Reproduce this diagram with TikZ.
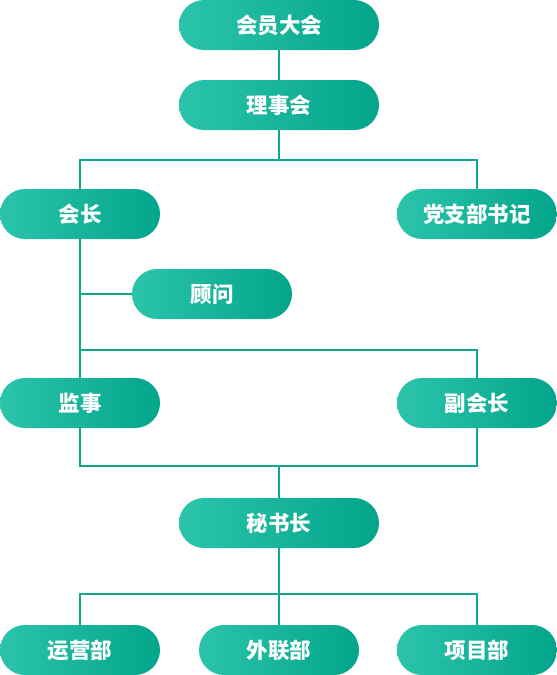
\documentclass[tikz,border=0pt]{standalone}
\usepackage{fontspec}
\newfontfamily\cjk{Noto Sans CJK SC}
\definecolor{lightg}{HTML}{2BC4AB}
\definecolor{darkg}{HTML}{03A58B}
\definecolor{linec}{HTML}{0DA68E}
\begin{document}
\begin{tikzpicture}[x=1pt,y=-1pt,
  pill/.style={rectangle, rounded corners=25pt, minimum height=50pt, minimum width=160pt, inner sep=0pt,
    left color=lightg, right color=darkg, text=white, font=\cjk\bfseries\fontsize{21.5}{21.5}\selectfont},
  wide/.style={pill, minimum width=200pt},
  conn/.style={draw=linec, line width=2pt}]
\useasboundingbox (0,0) rectangle (557,675);
\node[wide] (hy) at (279,25) {会员大会};
\node[wide] (lsh) at (279,105) {理事会};
\node[pill] (hz) at (80,214) {会长};
\node[pill] (dz) at (477,214) {党支部书记};
\node[pill] (gw) at (212,294) {顾问};
\node[pill] (js) at (80,403) {监事};
\node[pill] (fh) at (477,403) {副会长};
\node[wide] (ms) at (279,523) {秘书长};
\node[pill] (yy) at (80,650) {运营部};
\node[pill] (wl) at (279,650) {外联部};
\node[pill] (xm) at (477,650) {项目部};
\coordinate (j1) at (279,160);
\coordinate (j2) at (80,350);
\coordinate (j3) at (279,466);
\coordinate (j4) at (279,594);
\draw[conn] (hy.south) -- (lsh.north);
\draw[conn] (lsh.south) -- (j1);
\draw[conn] (hz.north) |- (j1) -| (dz.north);
\draw[conn] (hz.south) -- (js.north);
\draw[conn] (gw.west) -- (gw.west -| hz.south);
\draw[conn] (j2) -| (fh.north);
\draw[conn] (js.south) |- (j3) -| (fh.south);
\draw[conn] (j3) -- (ms.north);
\draw[conn] (ms.south) -- (j4);
\draw[conn] (yy.north) |- (j4) -| (xm.north);
\draw[conn] (j4) -- (wl.north);
\end{tikzpicture}
\end{document}
